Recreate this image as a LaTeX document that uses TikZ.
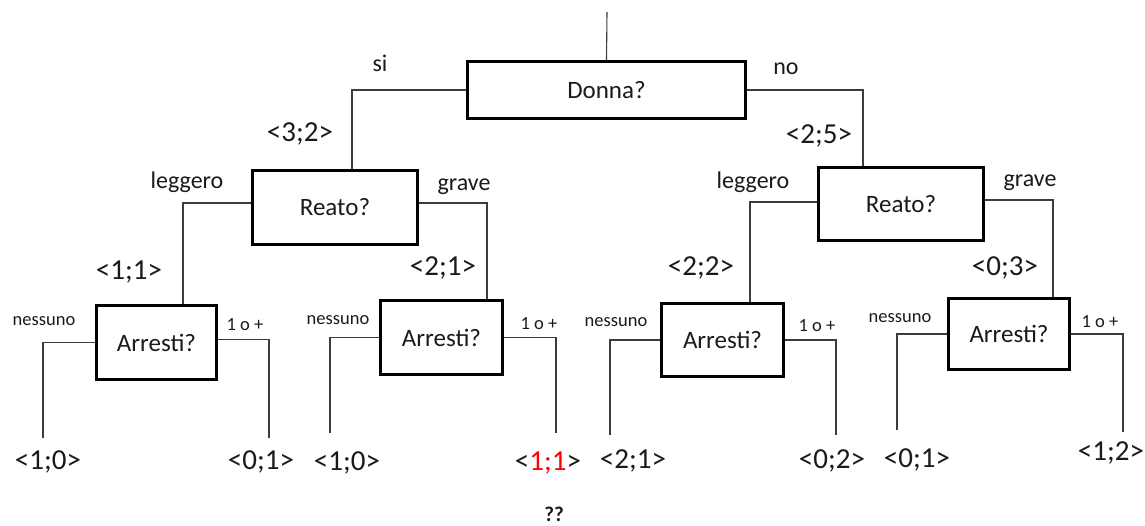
\documentclass[tikz,border=0pt]{standalone}
\usepackage{fontspec}
\setmainfont{Carlito}
\usepackage{tikz}
\usepackage{xcolor}
\definecolor{ink}{HTML}{1A1A1A}
\definecolor{wire}{HTML}{3C3C3C}

\begin{document}
\begin{tikzpicture}[x=1pt, y=-1pt,
		domanda/.style={draw=black, line width=3pt, inner sep=0pt, font=\fontsize{25}{25}\selectfont, text=ink},
		ramo/.style={draw=wire, line width=1.1pt},
		etichetta/.style={inner sep=0pt, font=\fontsize{24}{24}\selectfont, text=ink},
		piccola/.style={inner sep=0pt, font=\fontsize{18.5}{18.5}\selectfont, text=ink},
		voto/.style={inner sep=0pt, font=\fontsize{29}{29}\selectfont, text=ink}]
	\useasboundingbox (0,0) rectangle (1145,525);
	% domande
	\node[domanda, minimum width=278pt, minimum height=57pt] (donna) at (606.5, 90) {Donna?};
	\node[domanda, minimum width=165pt, minimum height=74pt] (reatoS) at (335, 207) {Reato?};
	\node[domanda, minimum width=165pt, minimum height=73pt] (reatoN) at (901, 204) {Reato?};
	\node[domanda, minimum width=120pt, minimum height=74pt] (arrA) at (156.5, 342.5) {Arresti?};
	\node[domanda, minimum width=122pt, minimum height=74pt] (arrB) at (441.5, 337.5) {Arresti?};
	\node[domanda, minimum width=122pt, minimum height=73pt] (arrC) at (722.5, 340) {Arresti?};
	\node[domanda, minimum width=121pt, minimum height=71pt] (arrD) at (1009, 334) {Arresti?};
	% estremi liberi
	\coordinate (radice) at (607, 12);
	\coordinate (fA1) at (43, 438);  \coordinate (fA2) at (269, 438);
	\coordinate (fB1) at (330, 433); \coordinate (fB2) at (556, 433);
	\coordinate (fC1) at (610, 435); \coordinate (fC2) at (836, 435);
	\coordinate (fD1) at (897, 430); \coordinate (fD2) at (1123, 432);
	% rami
	\draw[ramo] (radice) -- (donna.north);
	\draw[ramo] (donna.west) -| ([xshift=17pt]reatoS.north);
	\draw[ramo] (donna.east) -| ([xshift=-38pt]reatoN.north);
	\draw[ramo] ([yshift=4pt]reatoS.west) -| ([xshift=26.5pt]arrA.north);
	\draw[ramo] ([yshift=4pt]reatoS.east) -| ([xshift=45.5pt]arrB.north);
	\draw[ramo] ([yshift=2pt]reatoN.west) -| ([xshift=27.5pt]arrC.north);
	\draw[ramo] ([yshift=4pt]reatoN.east) -| ([xshift=44pt]arrD.north);
	\draw[ramo] (arrA.west) -| (fA1);
	\draw[ramo] ([yshift=3pt]arrA.east) -| (fA2);
	\draw[ramo] (arrB.west) -| (fB1);
	\draw[ramo] (arrB.east) -| (fB2);
	\draw[ramo] (arrC.west) -| (fC1);
	\draw[ramo] (arrC.east) -| (fC2);
	\draw[ramo] (arrD.west) -| (fD1);
	\draw[ramo] (arrD.east) -| (fD2);
	% etichette dei rami
	\node[etichetta] (si) at (380, 63) {si};
	\node[etichetta] (no) at (786, 69) {no};
	\node[voto] (vS) at (300, 134) {<3;2>};
	\node[voto] (vN) at (819, 136) {<2;5>};
	\node[etichetta] (legS) at (187, 182) {leggero};
	\node[etichetta] (grS) at (464, 187) {grave};
	\node[etichetta] (legN) at (753, 182) {leggero};
	\node[etichetta] (grN) at (1030, 183) {grave};
	\node[voto] (vA) at (129, 272) {<1;1>};
	\node[voto] (vB) at (443, 268) {<2;1>};
	\node[voto] (vC) at (701, 268) {<2;2>};
	\node[voto] (vD) at (1005, 268) {<0;3>};
	\node[piccola] (nA) at (44, 321) {nessuno};
	\node[piccola] (uA) at (245, 325) {1 o +};
	\node[piccola] (nB) at (338, 320) {nessuno};
	\node[piccola] (uB) at (539, 324) {1 o +};
	\node[piccola] (nC) at (616, 322) {nessuno};
	\node[piccola] (uC) at (817, 326) {1 o +};
	\node[piccola] (nD) at (900, 318) {nessuno};
	\node[piccola] (uD) at (1100, 322) {1 o +};
	% foglie
	\node[voto] (lA1) at (48, 462) {<1;0>};
	\node[voto] (lA2) at (261, 462) {<0;1>};
	\node[voto] (lB1) at (347, 463) {<1;0>};
	\node[voto] (lB2) at (548, 463) {<\textcolor{red}{1;1}>};
	\node[voto] (lC1) at (633, 461) {<2;1>};
	\node[voto] (lC2) at (832, 461) {<0;2>};
	\node[voto] (lD1) at (917, 460) {<0;1>};
	\node[voto] (lD2) at (1111, 453) {<1;2>};
	\node[piccola, font=\fontsize{21}{21}\selectfont\bfseries] (dubbio) at (554, 514) {??};
\end{tikzpicture}
\end{document}
